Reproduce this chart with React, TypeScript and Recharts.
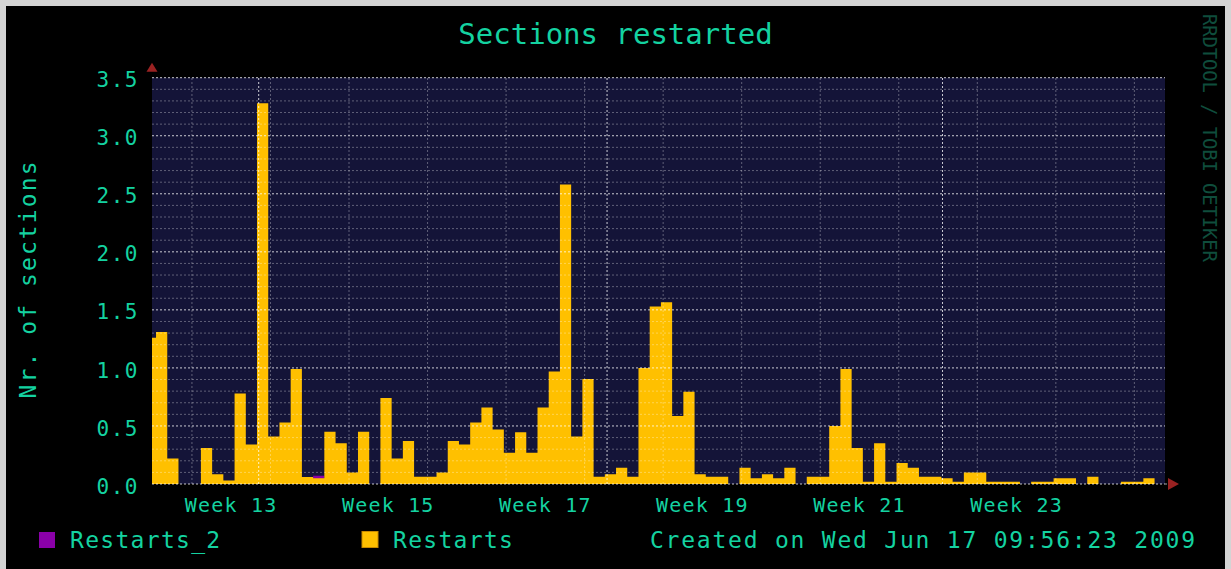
import React from 'react';
import { ComposedChart, Area, XAxis, YAxis, CartesianGrid, ReferenceLine, ReferenceDot } from 'recharts';

const TEXT = '#14d2a0';
const FONT = '"DejaVu Sans Mono", monospace';

// one value per day (x = day index)
const restarts = [
  1.31, 0.22, 0, 0, 0.31, 0.085, 0.03, 0.78, 0.34, 3.28,
  0.41, 0.53, 0.99, 0.06, 0.05, 0.45, 0.35, 0.1, 0.45, 0,
  0.74, 0.22, 0.37, 0.063, 0.063, 0.1, 0.37, 0.34, 0.53, 0.66,
  0.47, 0.27, 0.445, 0.27, 0.66, 0.97, 2.58, 0.41, 0.905, 0.063,
  0.083, 0.14, 0.063, 1.0, 1.53, 1.565, 0.585, 0.795, 0.083, 0.063,
  0.063, 0, 0.14, 0.05, 0.083, 0.05, 0.14, 0, 0.063, 0.063,
  0.5, 0.99, 0.31, 0.02, 0.35, 0.02, 0.18, 0.14, 0.063, 0.063,
  0.05, 0.02, 0.1, 0.1, 0.02, 0.02, 0.02, 0, 0.02, 0.02,
  0.05, 0.05, 0, 0.063, 0, 0, 0.02, 0.02, 0.05, 0,
];
const restarts2 = [
  0, 0, 0, 0, 0, 0, 0, 0, 0, 0,
  0, 0, 0, 0, 0.07, 0, 0, 0, 0, 0,
  0, 0, 0, 0, 0, 0, 0, 0, 0, 0,
  0, 0, 0, 0, 0, 0, 0, 0, 0, 0,
  0, 0, 0, 0, 0, 0, 0, 0, 0, 0,
  0, 0, 0, 0, 0, 0, 0, 0, 0, 0,
  0, 0, 0, 0, 0, 0, 0, 0, 0, 0,
  0, 0, 0, 0, 0, 0, 0, 0, 0, 0,
  0, 0, 0, 0, 0, 0, 0, 0, 0, 0,
];
// partial step before the first full day
const firstPartial = 1.26;
const startDay = -0.36;
const endDay = 89.93;

const yTicks = [0, 0.5, 1, 1.5, 2, 2.5, 3, 3.5];
const weekLabelDays = [6.7, 20.7, 34.7, 48.7, 62.7, 76.7];
const weekLabels = ['Week 13', 'Week 15', 'Week 17', 'Week 19', 'Week 21', 'Week 23'];
const weekLines = [3.2, 10.2, 17.2, 24.2, 31.2, 38.2, 45.2, 52.2, 59.2, 66.2, 73.2, 80.2, 87.2];
const monthLines = [9.15, 40.2, 70.1];
const minorY = Array.from({ length: 36 }, (_, i) => i / 10).filter(v => !yTicks.includes(v));

const data = [
  { day: startDay, r: firstPartial, r2: 0 },
  ...restarts.map((v, i) => ({ day: i, r: v, r2: restarts2[i] })),
  { day: endDay, r: 0, r2: 0 },
];

const MARGIN = { top: 77.7, right: 66, bottom: 45, left: 0 };

const YTick = (props: any) => {
  const { x, y, payload } = props;
  return (
    <text x={x} y={y + 9.6} textAnchor="end" fill={TEXT} fontFamily={FONT} fontSize={21} letterSpacing={1.5}>
      {Number(payload.value).toFixed(1)}
    </text>
  );
};

const XTick = (props: any) => {
  const { x, y, payload } = props;
  const label = weekLabels[weekLabelDays.indexOf(payload.value)];
  return (
    <text x={x} y={y + 28} textAnchor="middle" fill={TEXT} fontFamily={FONT} fontSize={20} letterSpacing={1.2}>
      {label}
    </text>
  );
};

const UpArrow = (props: any) => {
  const { cx, cy } = props;
  return <polygon points={`${cx - 5.5},${cy - 6} ${cx + 5.5},${cy - 6} ${cx},${cy - 15}`} fill="#9a2222" />;
};

const RightArrow = (props: any) => {
  const { cx, cy } = props;
  return (
    <g>
      <line x1={cx} y1={cy} x2={cx + 4} y2={cy} stroke="#a0a0a8" strokeDasharray="2 2" />
      <polygon points={`${cx + 3},${cy - 6} ${cx + 3},${cy + 6} ${cx + 14},${cy}`} fill="#9a2222" />
    </g>
  );
};

// same axes in both layers so the scales line up
const axes = (showTicks: boolean) => [
  <XAxis
    key="x"
    dataKey="day"
    type="number"
    domain={[startDay, endDay]}
    ticks={weekLabelDays}
    interval={0}
    allowDataOverflow
    height={40}
    axisLine={false}
    tickLine={false}
    tickSize={0}
    tickMargin={0}
    tick={showTicks ? XTick : false}
  />,
  <YAxis
    key="y"
    type="number"
    domain={[0, 3.5]}
    ticks={yTicks}
    interval={0}
    width={152}
    axisLine={false}
    tickLine={false}
    tickSize={0}
    tickMargin={13}
    tick={showTicks ? YTick : false}
  />,
];

export default function App() {
  return (
    <div style={{ position: 'absolute', left: 0, top: 0, width: 1231, height: 569, background: '#d4d4d4' }}>
      <div style={{ position: 'absolute', left: 6, top: 6, width: 1219, height: 563, background: '#000' }} />
      {/* data layer */}
      <div style={{ position: 'absolute', left: 0, top: 0 }}>
        <ComposedChart width={1231} height={569} data={data} margin={MARGIN}>
          <CartesianGrid horizontal={false} vertical={false} fill="#141438" />
          {axes(true)}
          <Area type="stepAfter" dataKey="r2" name="Restarts_2" fill="#8a00a8" fillOpacity={1} stroke="none" dot={false} activeDot={false} isAnimationActive={false} />
          <Area type="stepAfter" dataKey="r" name="Restarts" fill="#ffc000" fillOpacity={1} stroke="none" dot={false} activeDot={false} isAnimationActive={false} />
        </ComposedChart>
      </div>
      {/* grid layer, drawn over the data like rrdtool does */}
      <div style={{ position: 'absolute', left: 0, top: 0, pointerEvents: 'none' }}>
        <ComposedChart width={1231} height={569} data={data} margin={MARGIN}>
          {axes(false)}
          <Area type="stepAfter" dataKey="r" fill="none" fillOpacity={0} stroke="none" dot={false} activeDot={false} isAnimationActive={false} />
          {minorY.map(v => (
            <ReferenceLine key={`my${v}`} y={v} stroke="#ffffff" strokeOpacity={0.32} strokeDasharray="2 2" />
          ))}
          {weekLines.map(v => (
            <ReferenceLine key={`wk${v}`} x={v} stroke="#ffffff" strokeOpacity={0.32} strokeDasharray="2 2" />
          ))}
          {yTicks.map(v => (
            <ReferenceLine key={`My${v}`} y={v} stroke="#ffffff" strokeOpacity={0.78} strokeDasharray="2 2" />
          ))}
          {monthLines.map(v => (
            <ReferenceLine key={`mo${v}`} x={v} stroke="#ffffff" strokeOpacity={0.78} strokeDasharray="2 2" />
          ))}
          <ReferenceDot x={startDay} y={3.5} ifOverflow="visible" shape={UpArrow} />
          <ReferenceDot x={endDay} y={0} ifOverflow="visible" shape={RightArrow} />
        </ComposedChart>
      </div>
      <svg width={1231} height={569} style={{ position: 'absolute', left: 0, top: 0, pointerEvents: 'none' }}>
        <text x={615.5} y={43.5} textAnchor="middle" fill={TEXT} fontFamily={FONT} fontSize={29}>
          Sections restarted
        </text>
        <text x={35.5} y={280} textAnchor="middle" transform="rotate(-90, 35.5, 280)" fill={TEXT} fontFamily={FONT} fontSize={23} textLength={237} lengthAdjust="spacing">
          Nr. of sections
        </text>
        <rect x={39} y={532} width={16} height={16} fill="#8a00a8" />
        <text x={70} y={548} fill={TEXT} fontFamily={FONT} fontSize={23} letterSpacing={1.3}>
          Restarts_2
        </text>
        <rect x={362} y={531.5} width={16} height={16} fill="#ffc000" stroke="#c88a00" strokeWidth={1} />
        <text x={393} y={548} fill={TEXT} fontFamily={FONT} fontSize={23} letterSpacing={1.3}>
          Restarts
        </text>
        <text x={650} y={548} fill={TEXT} fontFamily={FONT} fontSize={23} textLength={545} lengthAdjust="spacing">
          Created on Wed Jun 17 09:56:23 2009
        </text>
        <text x={1203} y={14} transform="rotate(90, 1203, 14)" fill="#0f4d3c" fontFamily={FONT} fontSize={19} textLength={248} lengthAdjust="spacing">
          RRDTOOL / TOBI OETIKER
        </text>
      </svg>
    </div>
  );
}
